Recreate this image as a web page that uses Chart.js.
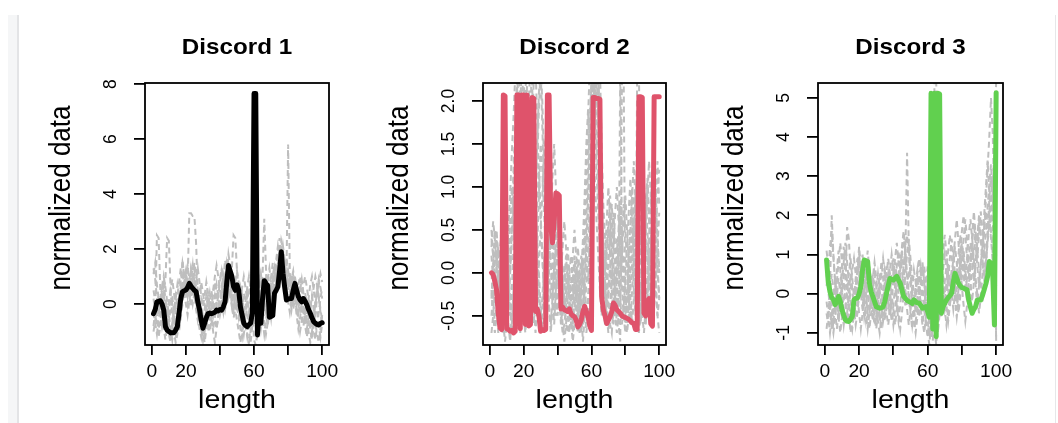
<!DOCTYPE html>
<html>
<head>
<meta charset="utf-8">
<title>Discords</title>
<script src="https://cdn.jsdelivr.net/npm/chart.js@4.4.1/dist/chart.umd.min.js"></script>
<style>
  html, body { margin: 0; padding: 0; background: #fff; }
  #wrap { position: relative; width: 1058px; height: 423px; overflow: hidden; background: #fff; }
  #wrap canvas { position: absolute; left: 0; top: 0; }
  .edge { position: absolute; top: 15px; bottom: 0; width: 9px; background: #f5f6f7; }
  .edge-right { position: absolute; top: 15px; bottom: 0; left: 1055px; width: 1px; background: #e6e7e9; }
</style>
</head>
<body>
<div id="wrap">
  <div class="edge" style="left:8px;border-right:2px solid #e3e4e6"></div>
  <div class="edge-right"></div>
  <canvas id="discord1Chart" width="1058" height="423"></canvas>
  <canvas id="discord2Chart" width="1058" height="423"></canvas>
  <canvas id="discord3Chart" width="1058" height="423"></canvas>
</div>
<script>
// ---------------------------------------------
// Data: the three discords and their nearest neighbours
// ---------------------------------------------
const xTicks = [0, 20, 40, 60, 80, 100];
const xTickLabels = ['0', '20', '', '60', '', '100'];

const discord1 = [
  -0.35, -0.2, 0.08, 0.1, 0.12, 0.0, -0.22, -0.82, -0.95, -1.0,
  -1.05, -1.04, -1.04, -0.95, -0.82, -0.33, 0.2, 0.45, 0.48, 0.51,
  0.6, 0.75, 0.65, 0.57, 0.5, 0.45, 0.08, -0.2, -0.6, -0.88,
  -0.7, -0.5, -0.35, -0.33, -0.35, -0.33, -0.3, -0.22, -0.25, -0.2,
  -0.22, -0.1, 0.08, 0.8, 1.4, 1.2, 1.0, 0.63, 0.5, 0.7,
  0.5, -0.1, -0.4, -0.7, -0.78, -0.82, -0.75, -0.7, -0.33, 7.66,
  7.66, -1.13, -0.2, -0.7, 0.2, 0.85, 0.75, 0.67, -0.48, -0.45,
  -0.42, 0.39, 0.5, 0.63, 1.2, 1.9, 1.12, 0.6, 0.15, 0.18,
  0.2, 0.2, 0.5, 0.75, 0.5, 0.27, 0.15, 0.08, 0.2, 0.1,
  -0.03, -0.2, -0.33, -0.5, -0.64, -0.7, -0.75, -0.76, -0.7, -0.68
];

const neighbours1 = [
  [1.3, 0.9, 0.2, -0.4, 0.1, 0.6, 0.2, -0.5, -0.9, -0.6,
   -0.2, 0.3, -0.3, -0.8, -0.4, 0.2, 0.9, 1.5, 1.1, 0.6,
   0.9, 0.4, 1.2, 0.8, 0.3, -0.2, -0.6, -0.3, 0.1, -0.5,
   -1.0, -0.6, 0.0, 0.4, -0.1, -0.4, 0.2, 0.7, 0.3, -0.2,
   0.4, 0.9, 1.6, 1.2, 0.6, 0.9, 0.3, -0.2, 0.5, 0.1,
   -0.4, -0.9, -1.2, -0.7, -0.2, 0.3, -0.5, -1.0, -0.4, 0.6,
   0.2, -0.6, 0.4, 1.0, 0.5, -0.3, 0.2, 0.9, 1.3, 0.8,
   0.4, 1.1, 1.6, 2.1, 1.7, 1.2, 1.8, 1.4, 0.9, 0.6,
   1.0, 0.5, 0.1, 0.6, 0.2, -0.3, 0.1, -0.4, -0.8, -0.3,
   0.2, -0.2, -0.6, -1.0, -0.5, 0.0, 0.4, 0.9, 0.6, 0.2],
  [-0.8, -0.2, 2.5, 2.4, 0.5, -0.3, -0.9, -1.3, -0.8, -0.3,
   0.4, 0.0, -0.6, -1.1, -0.7, 0.1, 0.6, 0.3, 0.8, 1.2,
   0.7, 3.3, 3.3, 3.2, 3.2, 2.2, 0.4, -0.4, -0.9, -1.3,
   -0.8, -0.2, 0.3, -0.1, -0.6, -0.9, -0.5, 0.0, 0.5, 0.9,
   1.3, 0.7, 0.2, 0.6, 1.1, 0.5, 0.0, -0.5, -0.2, 0.3,
   0.0, -0.5, -0.2, 0.4, 0.1, -0.4, -0.9, -1.4, -0.8, 0.1,
   -0.5, -1.0, -0.3, 0.3, 1.0, 3.1, 1.3, 0.4, 0.0, -0.5,
   0.2, 0.7, 1.2, 1.0, 1.5, 2.3, 2.0, 1.1, 0.7, 1.2,
   0.8, 0.3, -0.2, 0.2, -0.4, -0.9, -0.5, 0.0, -0.3, -0.8,
   -1.2, -0.7, -0.2, 0.3, -0.2, -0.7, -1.1, -1.4, -0.9, -0.4],
  [0.5, 0.1, -0.4, -0.9, -0.6, -0.1, 0.4, 0.9, 2.4, 2.3,
   0.6, -0.5, -1.0, -1.4, -1.1, -0.3, 0.5, 1.6, 1.0, 0.4,
   0.0, 0.5, 0.9, 1.4, 0.6, 0.1, -0.4, -0.9, -1.2, -0.7,
   -0.2, 0.3, -0.2, -0.6, -0.2, 0.4, 0.8, 0.3, 0.0, -0.4,
   -0.1, 0.4, 1.0, 1.5, 1.1, 0.6, 1.3, 2.5, 2.4, 1.2,
   0.5, 0.0, -0.6, -1.1, -0.6, 0.0, 0.6, 0.2, -0.3, -0.8,
   0.9, 0.3, -0.4, -0.9, -0.3, 0.5, 1.1, 0.6, 0.1, 0.5,
   1.0, 0.6, 1.3, 1.8, 2.4, 1.6, 1.0, 0.5, 0.9, 5.8,
   1.1, 0.6, 1.0, 0.5, -0.1, -0.5, -1.0, -0.6, -0.1, 0.4,
   0.0, -0.5, -0.9, -1.3, -0.8, -0.3, 0.2, 0.7, 1.1, 0.8],
  [-0.3, -0.7, -1.1, -0.6, 0.0, 0.5, 1.0, 0.6, 0.1, -0.4,
   -0.9, -1.3, -0.8, -0.2, 0.3, 0.8, 1.3, 0.9, 0.4, 0.0,
   -0.4, 0.1, 0.6, 1.0, 1.5, 1.1, 0.5, 0.0, -0.5, -1.0,
   -1.4, -0.9, -0.4, 0.1, 0.5, 0.0, -0.5, -0.9, -0.5, 0.0,
   0.5, 1.0, 0.5, 0.9, 1.8, 1.4, 0.8, 0.3, -0.2, -0.6,
   -1.0, -1.4, -0.9, -0.4, 0.1, 0.6, 1.0, 0.5, 0.0, -1.3,
   -1.5, -1.0, -0.4, 0.2, 0.7, 0.2, -0.3, -0.8, -0.3, 0.3,
   0.8, 1.3, 0.9, 0.5, 1.0, 1.5, 2.1, 1.6, 1.1, 0.7,
   0.3, -0.2, 0.3, 0.8, 0.4, 0.0, 0.5, 0.9, 0.4, -0.1,
   -0.6, -1.0, -1.4, -1.0, -0.5, 0.1, 0.6, 0.2, -0.3, -0.8],
  [1.1, 1.5, 0.7, 0.2, -0.3, -0.8, -0.4, 0.1, -0.2, -0.7,
   -1.1, -0.7, -0.2, 0.2, 0.7, 0.3, -0.2, 0.4, 0.9, 1.3,
   0.8, 0.3, -0.1, 0.4, 0.8, 0.3, -0.2, 0.3, 0.8, 0.4,
   0.0, -0.5, -1.0, -0.6, -0.1, 0.5, 1.0, 1.4, 1.0, 0.5,
   0.1, -0.3, 0.2, 0.7, 0.3, 0.8, 1.2, 0.6, 0.1, -0.3,
   0.2, 0.6, 0.2, -0.3, -0.8, -1.2, -0.7, -0.2, 0.3, 0.8,
   0.4, 1.0, 0.5, -0.1, -0.6, -1.1, -0.6, -0.1, 0.4, 1.0,
   1.5, 1.1, 0.6, 1.2, 1.8, 2.0, 1.5, 1.0, 0.5, 0.1,
   -0.3, 0.2, 0.6, 1.0, 0.6, 0.2, -0.2, 0.3, 0.7, 1.0,
   0.6, 0.2, -0.2, 0.2, 0.6, 1.0, 0.7, 0.3, -0.2, -0.6],
  [-1.0, -0.6, -0.1, 0.3, -0.2, 0.3, 0.7, 0.2, -0.3, 0.1,
   0.5, 0.9, 0.4, -0.1, -0.5, -1.0, -0.5, 0.0, 0.5, 1.0,
   1.4, 0.9, 0.4, 0.0, 0.4, 0.9, 1.3, 0.8, 0.3, -0.1,
   0.3, 0.8, 0.4, -0.1, -0.5, -1.0, -1.4, -0.9, -0.4, 0.1,
   0.6, 0.2, -0.2, 0.2, 0.6, 0.3, -0.1, 0.4, 0.8, 1.2,
   0.8, 0.3, 0.6, 1.0, 0.6, 0.1, -0.3, 0.2, 0.7, 0.3,
   -0.2, 0.3, 0.8, 0.4, -0.1, -0.6, -1.1, -0.7, -0.2, 0.2,
   -0.2, 0.3, 0.8, 1.2, 1.6, 1.2, 0.8, 1.3, 1.7, 1.2,
   0.7, 1.1, 0.7, 0.2, -0.2, 0.3, 0.7, 0.3, -0.2, -0.7,
   -0.3, 0.2, 0.7, 1.0, 0.5, 0.1, -0.3, -0.8, -1.2, -0.7],
  [0.2, -0.3, -0.8, -1.2, -0.8, -0.3, 0.3, -0.1, -0.6, -1.1,
   -1.4, -0.9, -0.3, 0.3, 0.0, -0.4, 0.1, 0.7, 1.2, 0.8,
   0.3, 0.8, 1.3, 0.9, 1.2, 0.6, 0.1, -0.4, -0.8, -1.2,
   -0.7, -0.2, -0.6, -1.0, -0.6, -0.1, 0.3, -0.1, 0.3, 0.8,
   1.2, 0.7, 0.3, 1.0, 1.4, 0.9, 0.5, 0.9, 0.4, -0.1,
   -0.5, -0.1, 0.3, -0.2, -0.7, -1.1, -1.4, -1.0, -0.5, 0.0,
   -0.6, 0.1, 0.7, 1.1, 0.6, 0.1, 0.6, 1.1, 0.7, 0.2,
   0.7, 1.2, 0.8, 1.4, 1.9, 1.5, 1.1, 0.7, 0.3, 0.8,
   0.4, 0.9, 1.2, 0.7, 0.3, 0.7, 1.0, 0.6, 0.1, -0.4,
   -0.9, -0.5, -0.1, -0.5, -0.9, -1.3, -0.8, -0.3, 0.2, 0.6]
];

const discord2 = [
  0.0, -0.02, -0.1, -0.2, -0.47, -0.64, -0.66, 2.07, 2.06, -0.65,
  -0.66, -0.68, -0.67, -0.7, -0.68, 2.07, 2.07, -0.65, 2.07, 2.07,
  -0.6, 2.07, -0.62, -0.6, 2.04, 2.03, -0.45, -0.42, -0.5, -0.68,
  -0.66, -0.67, -0.66, 2.07, 2.07, 0.55, 0.35, 0.6, 0.93, 0.92,
  0.9, -0.42, -0.4, -0.43, -0.44, -0.45, -0.42, -0.48, -0.5, -0.51,
  -0.55, -0.63, -0.6, -0.55, -0.45, -0.39, -0.45, -0.51, -0.62, -0.67,
  2.04, 2.04, 2.03, 2.03, 2.02, -0.27, -0.43, -0.5, -0.59, -0.55,
  -0.51, -0.45, -0.35, -0.38, -0.43, -0.45, -0.47, -0.5, -0.51, -0.52,
  -0.53, -0.54, -0.56, -0.58, -0.59, -0.66, -0.66, 2.05, 2.05, 2.04,
  -0.47, -0.5, -0.35, -0.3, -0.59, -0.62, 2.05, 2.05, 2.05, 2.05
];

const neighbours2 = [
  [0.3, 0.6, 0.4, 0.1, -0.2, -0.5, -0.7, -0.4, -0.1, 0.2,
   0.5, 0.9, 1.4, 1.8, 2.3, 2.4, 1.9, 1.3, 0.8, 0.3,
   -0.2, -0.6, -0.3, 0.2, 0.7, 1.2, 0.8, 0.4, 0.0, -0.4,
   -0.7, -0.5, -0.2, 0.1, 0.4, 0.1, -0.2, -0.5, -0.3, 0.0,
   -0.2, -0.5, -0.7, -0.6, -0.4, -0.1, -0.3, -0.6, -0.8, -0.6,
   -0.3, 0.0, -0.3, -0.6, -0.4, 0.0, 0.6, 1.2, 1.8, 2.2,
   2.4, 2.3, 1.6, 1.0, 0.5, 0.0, -0.4, -0.6, -0.3, 0.1,
   0.4, 0.8, 0.4, 0.0, -0.3, -0.6, -0.8, 2.4, 2.4, -0.5,
   -0.2, 0.2, 0.6, 1.0, 0.5, 0.1, -0.3, -0.6, -0.4, -0.1,
   0.2, 0.5, 0.9, 1.3, 0.9, 0.5, 0.2, -0.2, -0.5, -0.3],
  [-0.5, -0.2, 0.1, 0.4, 0.2, -0.1, -0.4, -0.7, -0.5, -0.2,
   0.1, -0.3, -0.6, -0.2, 0.3, 0.8, 1.4, 2.0, 2.4, 2.3,
   1.6, 1.0, 0.5, 0.1, -0.3, -0.6, -0.2, 0.3, 0.9, 1.5,
   1.2, 0.7, 0.3, -0.1, -0.4, -0.7, -0.4, 0.0, 0.4, 0.8,
   0.4, 0.0, -0.3, -0.5, -0.2, 0.1, -0.2, -0.5, -0.7, -0.5,
   -0.6, -0.4, -0.1, 0.2, -0.1, -0.4, -0.7, -0.5, 0.0, 0.7,
   1.5, 2.3, 2.4, 2.4, 1.7, 0.9, 0.3, -0.2, -0.5, -0.7,
   -0.4, -0.1, 0.3, 0.7, 1.0, 0.6, 0.2, -0.2, -0.5, -0.7,
   -0.4, 0.0, 0.4, 0.2, -0.2, -0.5, 2.4, 2.4, 0.5, 0.1,
   -0.3, -0.6, -0.3, 0.1, 0.5, 1.0, 1.4, 0.9, 0.4, 0.0],
  [0.0, -0.3, -0.6, -0.4, -0.1, 0.2, 0.5, 0.3, 0.0, -0.3,
   -0.6, -0.8, -0.5, 0.0, 0.6, 1.1, 0.7, 0.3, -0.1, -0.5,
   -0.7, -0.4, 0.2, 0.9, 1.6, 2.3, 2.4, 1.8, 1.1, 0.6,
   0.2, -0.2, -0.5, -0.2, 0.2, 0.6, 1.1, 1.5, 1.0, 0.5,
   0.1, -0.3, -0.6, -0.8, -0.6, -0.3, 0.0, 0.2, -0.1, -0.4,
   -0.2, 0.1, -0.2, -0.5, -0.8, -0.5, -0.1, 0.3, 0.8, 1.4,
   2.0, 2.4, 2.4, 2.0, 1.3, 0.7, 0.2, -0.1, -0.4, -0.2,
   0.1, -0.3, -0.6, -0.4, 0.0, 0.3, 0.6, 0.2, -0.2, -0.5,
   -0.7, -0.5, -0.2, 0.1, 0.5, 0.9, 1.2, 0.7, 0.3, -0.1,
   -0.4, -0.6, -0.3, 0.0, 0.3, 0.6, 0.3, -0.1, -0.5, -0.7],
  [0.4, 0.2, -0.1, -0.4, -0.7, -0.5, -0.2, 0.1, 0.4, 0.6,
   0.3, 0.0, 0.4, 0.9, 0.5, 0.0, -0.4, -0.7, -0.4, 0.1,
   0.6, 1.3, 2.0, 2.4, 1.8, 1.0, 0.4, -0.1, -0.5, -0.7,
   -0.5, -0.1, 0.4, 0.9, 1.3, 0.8, 0.3, -0.1, -0.5, -0.3,
   0.0, 0.3, 0.0, -0.3, -0.6, -0.7, -0.5, -0.3, -0.1, 0.1,
   -0.2, -0.5, -0.3, 0.0, 0.4, 0.9, 1.5, 1.9, 1.2, 0.6,
   1.2, 1.9, 2.3, 2.4, 2.4, 1.5, 0.8, 0.4, 0.0, -0.3,
   -0.6, -0.7, -0.4, 0.0, 0.4, 0.1, -0.3, -0.6, -0.4, -0.1,
   0.3, 0.7, 1.1, 0.6, 0.2, -0.2, -0.5, -0.7, -0.5, -0.2,
   0.2, 0.6, 1.0, 0.6, 0.2, -0.2, -0.4, -0.1, 0.3, 0.7],
  [-0.7, -0.5, -0.2, 0.1, 0.3, 0.0, -0.3, -0.6, -0.8, -0.6,
   -0.3, 0.1, 0.6, 1.2, 1.7, 2.1, 2.4, 1.9, 1.2, 0.6,
   0.1, -0.3, -0.6, -0.3, 0.0, 0.4, 0.8, 1.3, 1.9, 2.4,
   1.7, 1.0, 0.4, 0.0, -0.4, -0.6, -0.3, 0.1, 0.3, 0.0,
   -0.3, -0.6, -0.4, -0.1, 0.2, -0.1, -0.4, -0.6, -0.3, -0.1,
   -0.4, -0.7, -0.5, -0.2, 0.1, -0.2, -0.5, -0.3, 0.2, 0.8,
   1.6, 2.4, 2.4, 1.8, 1.0, 0.5, 0.1, -0.3, -0.1, 0.2,
   0.5, 0.2, -0.2, -0.5, -0.7, -0.5, -0.2, 0.2, 0.6, 0.9,
   0.5, 0.1, -0.3, -0.6, -0.3, 0.1, 0.4, 0.1, -0.2, -0.5,
   -0.7, -0.4, 0.0, 0.4, 0.8, 1.2, 0.7, 0.3, 0.0, -0.3],
  [0.2, -0.1, 0.2, 0.5, 0.2, -0.2, -0.5, -0.3, 0.0, 0.3,
   0.0, -0.4, -0.7, -0.5, -0.1, 0.4, 0.9, 1.4, 2.0, 2.4,
   2.4, 1.6, 0.9, 0.4, 0.0, -0.4, -0.7, -0.4, 0.1, 0.5,
   0.9, 1.4, 1.6, 1.0, 0.5, 0.1, -0.3, -0.6, -0.2, 0.3,
   0.7, 0.3, -0.1, -0.4, -0.2, 0.0, -0.3, -0.5, -0.2, 0.0,
   -0.3, -0.6, -0.4, -0.1, 0.2, 0.5, 0.2, -0.1, 0.4, 1.0,
   1.7, 2.4, 2.4, 2.4, 1.6, 0.8, 0.3, 0.0, 0.3, 0.6,
   0.2, -0.2, -0.5, -0.2, 0.2, 0.5, 0.8, 0.4, 0.0, -0.3,
   -0.6, -0.4, 0.0, 0.5, 0.9, 0.5, 0.1, -0.3, -0.6, -0.3,
   0.1, 0.4, 0.1, -0.3, -0.6, -0.3, 0.1, 0.5, 0.9, 1.2],
  [-0.3, 0.1, 0.5, 0.2, -0.2, -0.6, -0.3, 0.1, 0.5, 0.3,
   -0.1, -0.5, -0.2, 0.3, 0.9, 1.5, 1.1, 0.6, 0.2, 0.7,
   1.3, 1.9, 1.4, 0.8, 0.3, -0.1, 0.3, 0.8, 1.2, 0.7,
   0.2, -0.3, -0.6, -0.3, 0.1, 0.5, 0.2, -0.2, 0.2, 0.5,
   0.1, -0.2, -0.5, -0.2, 0.1, 0.3, 0.0, -0.3, -0.6, -0.3,
   0.0, 0.3, 0.0, -0.3, -0.6, -0.2, 0.3, 0.9, 1.6, 2.3,
   2.4, 1.9, 1.2, 0.7, 0.3, -0.1, -0.5, -0.2, 0.2, 0.5,
   0.9, 0.5, 0.1, -0.3, -0.6, -0.3, 0.1, 0.4, 0.8, 0.5,
   0.1, -0.3, -0.6, -0.2, 0.2, 0.6, 0.3, -0.1, -0.4, 0.0,
   0.4, 0.8, 1.1, 0.7, 0.3, 0.6, 1.0, 0.5, 0.1, -0.3],
  [0.5, 0.2, -0.2, -0.5, -0.3, 0.1, 0.4, 0.1, -0.3, -0.6,
   -0.4, 0.0, 0.5, 1.0, 1.6, 2.2, 2.4, 2.4, 1.7, 1.1,
   0.6, 0.2, -0.2, -0.5, -0.2, 0.3, 0.9, 1.5, 2.1, 2.4,
   2.0, 1.3, 0.8, 0.4, 0.0, -0.3, 0.1, 0.5, 0.9, 0.4,
   -0.1, -0.4, -0.2, 0.1, -0.2, -0.5, -0.7, -0.4, -0.1, 0.2,
   -0.1, -0.4, -0.7, -0.4, 0.0, 0.5, 1.1, 1.8, 2.4, 2.4,
   1.8, 1.1, 0.6, 0.2, -0.2, -0.5, -0.2, 0.2, 0.6, 1.0,
   0.6, 0.2, -0.2, -0.5, -0.2, 0.2, 0.5, 0.1, -0.3, -0.6,
   -0.3, 0.1, 0.5, 0.9, 1.3, 0.8, 0.4, 0.0, -0.3, 0.1,
   0.5, 0.9, 0.5, 0.1, -0.3, 0.1, 0.5, 0.9, 1.3, 0.8],
  [-0.2, -0.5, -0.7, -0.5, -0.2, 0.2, 0.6, 0.4, 0.1, -0.2,
   0.2, 0.6, 1.0, 0.6, 0.2, -0.2, -0.5, -0.2, 0.3, 0.9,
   1.5, 2.2, 2.4, 2.4, 2.2, 1.4, 0.7, 0.2, -0.2, -0.5,
   -0.3, 0.1, 0.6, 1.2, 1.8, 1.3, 0.7, 0.2, -0.2, -0.5,
   -0.3, 0.0, 0.3, 0.6, 0.3, 0.0, -0.3, -0.1, 0.2, 0.5,
   0.2, -0.2, -0.5, -0.7, -0.4, -0.1, 0.3, 0.7, 1.2, 1.8,
   2.4, 2.4, 2.2, 1.5, 0.9, 0.4, 0.0, -0.4, -0.6, -0.3,
   0.0, 0.4, 0.7, 0.3, -0.1, -0.4, 2.4, 0.4, 0.0, -0.3,
   -0.6, -0.3, 0.1, 0.5, 0.2, -0.2, -0.5, -0.2, 0.2, 0.6,
   1.0, 0.6, 0.2, -0.2, 0.2, 0.7, 1.2, 0.8, 0.4, 0.0]
];

const discord3 = [
  0.86, 0.3, 0.05, -0.1, -0.15, -0.28, -0.2, -0.07, -0.2, -0.41,
  -0.55, -0.67, -0.7, -0.71, -0.65, -0.58, -0.16, -0.12, -0.11, 0.0,
  0.18, 0.6, 0.86, 0.84, 0.82, 0.27, 0.05, -0.07, -0.2, -0.33,
  -0.35, -0.37, -0.36, -0.33, -0.2, 0.01, 0.2, 0.39, 0.37, 0.35,
  0.4, 0.44, 0.35, 0.27, 0.1, -0.07, -0.12, -0.17, -0.2, -0.22,
  -0.25, -0.16, -0.2, -0.24, -0.24, -0.3, -0.37, -0.35, -0.33, -0.45,
  -0.6, 5.12, -0.9, 5.12, -1.1, 5.12, 5.1, -0.5, -0.33, -0.25,
  -0.16, -0.1, -0.05, 0.01, 0.3, 0.52, 0.4, 0.27, 0.2, 0.16,
  0.14, 0.12, 0.1, -0.16, -0.35, -0.5, -0.4, -0.33, -0.16, -0.16,
  -0.16, -0.05, 0.1, 0.25, 0.44, 0.82, 0.78, 0.5, -0.8, 5.13
];

const neighbours3 = [
  [-0.5, -0.8, 0.2, 2.0, 1.0, 0.3, -0.3, -0.7, -0.4, 0.0,
   0.4, 0.8, 0.3, -0.2, -0.6, -0.9, -0.5, 0.0, 0.6, 1.2,
   0.7, 0.2, -0.3, -0.7, -0.4, 0.1, 0.5, 0.2, -0.3, -0.6,
   -0.2, 0.3, 0.8, 0.4, -0.1, -0.5, -0.8, -0.4, 0.1, 0.5,
   0.9, 1.3, 0.8, 0.3, -0.1, 0.4, 1.0, 3.6, 1.2, 0.4,
   0.0, -0.4, -0.7, -0.4, 0.0, 0.4, 0.8, 0.3, -0.2, -0.7,
   -1.0, -0.6, 0.1, 5.5, 5.5, 0.6, -0.2, -0.6, -0.2, 0.3,
   0.7, 1.1, 1.5, 1.0, 0.5, 0.0, -0.4, 0.1, 0.6, 1.0,
   1.4, 1.9, 1.4, 0.8, 0.3, -0.2, 0.3, 0.8, 1.3, 1.9,
   1.4, 0.9, 1.6, 2.4, 3.2, 4.0, 5.0, 4.1, 2.2, 5.5],
  [0.2, 0.6, 1.2, 1.6, 0.9, 0.3, -0.2, -0.6, -1.0, -0.6,
   -0.2, 0.3, 1.7, 1.4, 0.6, 0.1, -0.4, -0.8, -0.5, 0.0,
   0.5, 1.0, 0.5, 0.0, -0.5, -0.9, -0.5, 0.0, 0.5, 0.2,
   -0.3, -0.7, -0.4, 0.1, 0.6, 0.3, -0.2, -0.6, -0.2, 0.3,
   0.8, 0.4, 0.0, 0.5, 1.0, 1.5, 0.9, 0.4, -0.1, -0.5,
   -0.9, -0.5, 0.0, 0.4, 0.0, -0.4, -0.8, -0.4, 0.2, 0.7,
   0.2, -0.5, -1.2, -0.7, 0.0, 0.5, 1.0, 0.5, 0.0, -0.4,
   -0.1, 0.4, 0.9, 1.4, 1.0, 0.5, 0.0, -0.5, -0.1, 0.4,
   0.8, 0.3, -0.2, 0.3, 0.8, 1.3, 1.8, 1.3, 0.7, 0.2,
   0.7, 1.4, 2.0, 2.7, 3.4, 2.6, 1.8, 2.8, 3.6, -1.2],
  [-0.9, -0.5, 0.0, 0.5, 0.1, -0.4, -0.9, -0.5, 0.1, 0.7,
   1.2, 0.6, 0.0, -0.5, -1.0, -0.6, -0.1, 0.4, 0.9, 0.5,
   0.0, -0.4, 0.1, 0.6, 1.1, 0.6, 0.1, -0.4, -0.8, -0.5,
   0.0, 0.5, 0.2, -0.3, -0.7, -0.3, 0.2, 0.6, 1.0, 0.6,
   0.2, -0.3, -0.7, -0.3, 0.2, 0.7, 1.2, 1.5, 1.0, 0.5,
   0.1, -0.3, 0.2, 0.6, 0.2, -0.3, -0.7, -1.0, -0.6, -0.2,
   0.4, 0.9, 0.3, -0.4, -1.0, -0.5, 0.1, 0.6, 1.1, 1.5,
   1.0, 0.5, 0.0, 0.4, 0.9, 1.4, 1.9, 1.3, 0.7, 0.2,
   -0.3, -0.7, -0.3, 0.2, 0.7, 1.2, 0.7, 0.2, -0.3, 0.2,
   0.7, 1.2, 1.7, 2.1, 1.5, 2.4, 3.0, 1.9, 0.8, 0.2],
  [0.5, 0.1, -0.4, -0.9, -0.5, 0.0, 0.6, 1.1, 0.6, 0.1,
   -0.4, -0.8, -0.5, 0.0, 0.5, 0.1, -0.4, -0.1, 0.4, 0.9,
   0.4, -0.1, -0.6, -0.3, 0.2, 0.7, 0.3, -0.2, -0.6, -0.9,
   -0.5, 0.0, 0.5, 0.9, 0.5, 0.1, -0.4, 0.0, 0.5, 0.9,
   0.4, -0.1, -0.5, -0.9, -0.5, 0.0, 0.5, 1.0, 1.4, 0.9,
   0.4, 0.0, -0.5, -0.1, 0.3, 0.7, 0.3, -0.2, -0.6, -1.0,
   -1.3, -0.8, -0.2, 0.4, -0.3, -0.9, -0.4, 0.1, 0.5, 0.1,
   -0.3, -0.7, -0.3, 0.2, 0.6, 0.2, -0.2, 0.3, 0.8, 1.3,
   0.9, 0.4, 0.9, 1.5, 1.9, 1.4, 0.9, 0.4, 0.0, -0.5,
   -0.1, 0.5, 1.1, 0.6, 1.4, 2.2, 1.6, 1.0, 0.4, 1.0],
  [1.1, 0.7, 0.2, -0.3, -0.7, -0.3, 0.3, 0.8, 1.3, 0.8,
   0.3, -0.2, -0.7, -0.4, 0.1, 0.6, 0.9, 0.5, 0.0, -0.5,
   -0.9, -0.5, 0.0, 0.4, 0.0, -0.4, -0.1, 0.4, 0.8, 0.4,
   -0.1, -0.5, -0.9, -0.5, 0.0, 0.5, 0.9, 0.5, 0.0, -0.4,
   -0.8, -0.4, 0.1, 0.6, 1.1, 0.6, 0.1, -0.4, -0.8, -0.4,
   0.1, 0.6, 0.3, -0.2, -0.6, -0.2, 0.3, 0.7, 0.3, -0.1,
   -0.6, -1.1, -0.7, -0.2, 0.3, 0.8, 0.4, -0.1, -0.5, -0.2,
   0.3, 0.8, 0.4, 0.0, -0.4, 0.0, 0.5, 1.0, 1.5, 1.0,
   0.5, 0.0, 0.4, 0.9, 1.3, 0.8, 0.3, 0.8, 1.4, 2.0,
   1.5, 0.9, 0.4, 0.9, 1.5, 2.0, 1.4, 0.8, 0.3, -0.3],
  [-0.2, -0.6, -1.0, -0.6, -0.1, 0.4, -0.1, -0.5, -0.2, 0.3,
   0.8, 1.3, 0.8, 0.3, -0.2, -0.6, -0.3, 0.2, 0.6, 1.0,
   0.6, 0.2, -0.3, 0.2, 0.6, 0.2, -0.3, -0.7, -0.3, 0.1,
   0.5, 0.1, -0.3, -0.7, -0.4, 0.1, 0.5, 0.1, -0.4, -0.8,
   -0.4, 0.1, 0.5, 1.0, 0.6, 0.1, -0.3, 0.2, 0.6, 0.2,
   -0.3, -0.7, -1.0, -0.6, -0.2, 0.3, 0.7, 0.3, -0.2, 0.3,
   0.8, 0.3, -0.3, -0.9, -1.3, -0.7, -0.1, 0.4, 0.0, -0.4,
   -0.8, -0.4, 0.1, 0.6, 0.2, -0.2, -0.6, -0.2, 0.3, 0.7,
   1.1, 0.6, 0.1, -0.3, 0.2, 0.6, 1.1, 1.6, 1.1, 0.6,
   0.2, -0.2, 0.3, 0.8, 1.3, 1.8, 2.4, 3.0, 2.0, -1.2],
  [0.8, 0.3, -0.2, -0.7, -1.0, -0.6, -0.1, 0.4, 0.0, -0.4,
   -0.8, -0.4, 0.1, 0.5, 0.9, 0.4, -0.1, -0.6, -0.2, 0.3,
   0.8, 0.4, -0.1, -0.5, -0.9, -0.5, 0.0, 0.5, 0.1, -0.3,
   -0.7, -1.0, -0.6, -0.2, 0.3, 0.7, 0.2, -0.3, -0.7, -0.3,
   0.2, 0.7, 1.1, 0.6, 1.2, 1.6, 1.1, 0.5, 0.0, -0.4,
   -0.8, -0.4, 0.1, 0.5, 0.9, 0.5, 0.0, -0.4, -0.8, -1.1,
   -0.6, 0.0, 0.6, 0.2, -0.4, -1.0, -0.5, 0.1, 0.6, 1.0,
   0.6, 0.1, -0.3, 0.2, 0.7, 1.2, 0.8, 0.3, 1.0, 1.6,
   2.0, 1.5, 0.9, 0.4, 0.9, 1.5, 2.1, 1.5, 0.9, 1.5,
   2.1, 1.6, 1.0, 1.6, 2.2, 2.8, 3.3, 2.5, 1.5, 0.4]
];

// ---------------------------------------------
// Panel settings (plot box in page pixels, y range, tick step)
// ---------------------------------------------
const panels = [
  { id: 'discord1Chart', title: 'Discord 1', series: discord1, others: neighbours1, color: '#000000',
    box: { left: 145, top: 83, right: 329, bottom: 345 }, yMin: -1.49, yMax: 8.04, yStep: 2, yDigits: 0 },
  { id: 'discord2Chart', title: 'Discord 2', series: discord2, others: neighbours2, color: '#DF536B',
    box: { left: 483, top: 83, right: 666, bottom: 345 }, yMin: -0.84, yMax: 2.21, yStep: 0.5, yDigits: 1 },
  { id: 'discord3Chart', title: 'Discord 3', series: discord3, others: neighbours3, color: '#61D04F',
    box: { left: 818, top: 83, right: 1003, bottom: 345 }, yMin: -1.31, yMax: 5.38, yStep: 1, yDigits: 0 }
];

const FONT = '"Liberation Sans", Arial, sans-serif';
const TEXT_STRETCH = 1.1;   // glyphs are a little wider than tall

function toPoints(values) {
  return values.map((v, i) => ({ x: i + 1, y: v }));
}

// text at (x, y), widened horizontally; angle in radians
function wideText(ctx, text, x, y, angle) {
  ctx.save();
  ctx.translate(x, y);
  ctx.scale(TEXT_STRETCH, 1);
  if (angle) ctx.rotate(angle);
  ctx.fillText(text, 0, 0);
  ctx.restore();
}

// R-like frame: box around the plot, titles and tick labels
const baseGraphicsPlugin = {
  id: 'baseGraphics',
  afterDraw(chart, args, opts) {
    const ctx = chart.ctx;
    const area = chart.chartArea;
    const xScale = chart.scales.x;
    const yScale = chart.scales.y;
    const midX = (area.left + area.right) / 2;

    ctx.save();
    ctx.strokeStyle = '#000';
    ctx.lineWidth = 1.8;
    ctx.strokeRect(Math.round(area.left), Math.round(area.top),
                   Math.round(area.right - area.left), Math.round(area.bottom - area.top));

    ctx.fillStyle = '#000';
    ctx.textAlign = 'center';
    ctx.textBaseline = 'middle';

    // tick labels
    ctx.font = '17.5px ' + FONT;
    xScale.ticks.forEach((t, i) => {
      wideText(ctx, xTickLabels[i], xScale.getPixelForValue(t.value), 372, 0);
    });
    yScale.ticks.forEach(t => {
      wideText(ctx, t.value.toFixed(opts.yDigits), area.left - 34,
               yScale.getPixelForValue(t.value), -Math.PI / 2);
    });

    // main title
    ctx.font = 'bold 22px ' + FONT;
    wideText(ctx, opts.title, midX, 48, 0);

    // axis titles
    ctx.font = '26px ' + FONT;
    wideText(ctx, 'length', midX, 401, 0);
    wideText(ctx, 'normalized data', area.left - 83, 198, -Math.PI / 2);
    ctx.restore();
  }
};

function buildChart(p) {
  const datasets = [{
    data: toPoints(p.series),
    borderColor: p.color,
    borderWidth: 5,
    borderCapStyle: 'round',
    borderJoinStyle: 'round',
    pointRadius: 0,
    order: 0
  }];
  p.others.forEach(values => {
    datasets.push({
      data: toPoints(values),
      borderColor: '#BEBEBE',
      borderWidth: 2,
      borderDash: [6, 4],
      pointRadius: 0,
      order: 1
    });
  });

  return new Chart(document.getElementById(p.id), {
    type: 'line',
    data: { datasets },
    options: {
      responsive: false,
      devicePixelRatio: 1,
      animation: false,
      events: [],
      layout: {
        padding: { left: p.box.left, top: p.box.top, right: 1058 - p.box.right, bottom: 423 - p.box.bottom }
      },
      elements: { line: { tension: 0 } },
      plugins: {
        legend: { display: false },
        tooltip: { enabled: false },
        baseGraphics: { title: p.title, yDigits: p.yDigits }
      },
      scales: {
        x: {
          type: 'linear',
          min: -4,
          max: 104,
          afterFit: s => { s.height = 0; },
          afterBuildTicks: s => { s.ticks = xTicks.map(v => ({ value: v })); },
          grid: { drawOnChartArea: false, drawTicks: true, tickLength: 10, color: '#000', lineWidth: 1.8 },
          border: { display: false },
          ticks: { autoSkip: false, maxRotation: 0, color: 'rgba(0,0,0,0)' }
        },
        y: {
          type: 'linear',
          min: p.yMin,
          max: p.yMax,
          afterFit: s => { s.width = 0; },
          grid: { drawOnChartArea: false, drawTicks: true, tickLength: 11, color: '#000', lineWidth: 1.8 },
          border: { display: false },
          ticks: { stepSize: p.yStep, includeBounds: false, color: 'rgba(0,0,0,0)' }
        }
      }
    },
    plugins: [baseGraphicsPlugin]
  });
}

panels.forEach(buildChart);
</script>
</body>
</html>
